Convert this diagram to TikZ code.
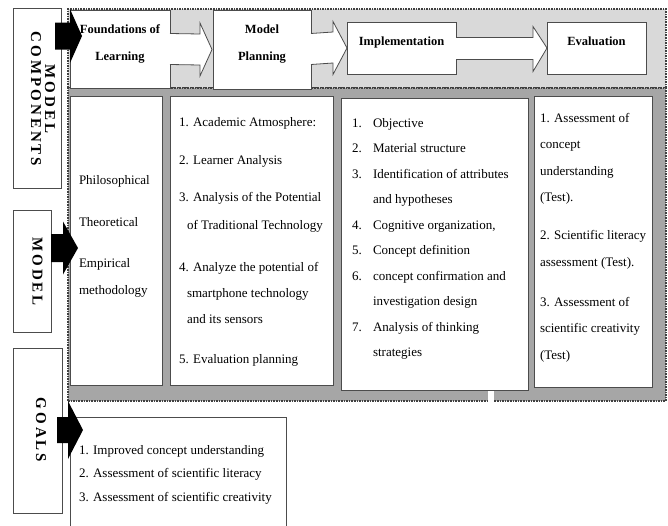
\documentclass[tikz,border=0pt]{standalone}
\usepackage{fontspec}
\setmainfont{Liberation Serif}
\usetikzlibrary{calc, shadows}

\begin{document}
\begin{tikzpicture}[x=1pt, y=-1pt,
        every node/.style={inner sep=0pt, outer sep=0pt},
        area/.style={rectangle, draw=black!75, line width=1.1pt, dash pattern=on 1.6pt off 1pt},
        box/.style={rectangle, draw=black!70, line width=0.8pt, fill=white, drop shadow={shadow xshift=1.3pt, shadow yshift=-1.3pt, opacity=1, fill=black!65}},
        head/.style={box, align=center, text depth=13pt, font=\fontsize{12.5}{27}\selectfont\bfseries},
        sidetxt/.style={rotate=-90, align=center, font=\fontsize{15}{14}\selectfont\bfseries\addfontfeature{LetterSpace=20}},
        txt/.style={anchor=north west, align=left},
        hollow/.style={draw=black!70, fill=white, line width=0.8pt},
        blk/.style={fill=black}
    ]
        \useasboundingbox (0,0) rectangle (668,525);
        \clip (0,0) rectangle (668,525);

        % Gray areas
        \node[area, fill=black!15, minimum width=598pt, minimum height=79pt] (toparea) at (367,48.5) {};
        \node[area, fill=black!35, minimum width=598pt, minimum height=313pt] (midarea) at (367,244.5) {};
        \fill[white] (488,391) rectangle (494,402);

        % Model components
        \node[head, minimum width=100pt, minimum height=78pt] (found) at (120,49) {Foundations of\\Learning};
        \node[head, minimum width=98pt, minimum height=79pt] (plan) at (262,49.5) {Model\\Planning};
        \node[head, minimum width=109pt, minimum height=52pt] (impl) at (401.5,48) {Implementation};
        \node[head, minimum width=99pt, minimum height=52pt] (eval) at (596.5,48) {Evaluation};

        % Hollow arrows
        \draw[hollow] ($(found.east)+(0,-15.5)$) -- ($(plan.west)+(-13,-15.5)$) -- ($(plan.west)+(-13,-26.5)$) -- ($(plan.west)+(-1,0)$) -- ($(plan.west)+(-13,26.5)$) -- ($(plan.west)+(-13,15.5)$) -- ($(found.east)+(0,15.5)$);
        \draw[hollow] ($(plan.east)+(0,-16)$) -- ($(impl.west)+(-14,-16)$) -- ($(impl.west)+(-14,-26.5)$) -- (impl.west) -- ($(impl.west)+(-14,26.5)$) -- ($(impl.west)+(-14,15)$) -- ($(plan.east)+(0,15)$);
        \draw[hollow] ($(impl.east)+(0,-10.5)$) -- ($(eval.west)+(-14,-10.5)$) -- ($(eval.west)+(-14,-21.5)$) -- (eval.west) -- ($(eval.west)+(-14,23.5)$) -- ($(eval.west)+(-14,11.5)$) -- ($(impl.east)+(0,11.5)$);

        % Model columns
        \node[box, minimum width=92pt, minimum height=289pt] (basis) at (116,240.5) {};
        \node[box, minimum width=163pt, minimum height=289pt] (plancol) at (251.5,240.5) {};
        \node[box, minimum width=187pt, minimum height=292pt] (implcol) at (434.5,244) {};
        \node[box, minimum width=118pt, minimum height=291pt] (evalcol) at (593,241.5) {};

        \node[txt, font=\fontsize{13}{27}\selectfont] (basistxt) at (79,175)
            {Philosophical\\[15pt]Theoretical\\[14pt]Empirical\\methodology};
        \node[txt, font=\fontsize{13}{26}\selectfont] (plantxt) at (179,117)
            {1. Academic Atmosphere:\\[12pt]2. Learner Analysis\\[11pt]3. Analysis of the Potential\\[2pt]\hspace*{8pt}of Traditional Technology\\[16pt]4. Analyze the potential of\\\hspace*{8pt}smartphone technology\\\hspace*{8pt}and its sensors\\[14pt]5. Evaluation planning};
        \node[txt, font=\fontsize{13}{25.5}\selectfont] (impltxt) at (352,118)
            {\makebox[21pt][l]{1.}Objective\\
             \makebox[21pt][l]{2.}Material structure\\
             \makebox[21pt][l]{3.}Identification of attributes\\
             \hspace*{21pt}and hypotheses\\
             \makebox[21pt][l]{4.}Cognitive organization,\\
             \makebox[21pt][l]{5.}Concept definition\\
             \makebox[21pt][l]{6.}concept confirmation and\\
             \hspace*{21pt}investigation design\\
             \makebox[21pt][l]{7.}Analysis of thinking\\
             \hspace*{21pt}strategies};
        \node[txt, font=\fontsize{13}{26.5}\selectfont] (evaltxt) at (540,113)
            {1. Assessment of\\concept\\understanding\\(Test).\\[11.5pt]2. Scientific literacy\\assessment (Test).\\[13.5pt]3. Assessment of\\scientific creativity\\(Test)};

        % Goals
        \node[box, minimum width=216pt, minimum height=113pt] (goals) at (178,473.5) {};
        \node[txt, font=\fontsize{13}{23.5}\selectfont] (goalstxt) at (79,445)
            {1. Improved concept understanding\\2. Assessment of scientific literacy\\3. Assessment of scientific creativity};

        % Side labels
        \node[box, minimum width=48pt, minimum height=180pt] (comp) at (37,98) {};
        \node[sidetxt] (comptxt) at (43,99) {MODEL\\COMPONENTS};
        \node[box, minimum width=38pt, minimum height=122pt] (modl) at (32,271) {};
        \node[sidetxt] (modltxt) at (37.5,271.5) {MODEL};
        \node[box, minimum width=49pt, minimum height=165pt] (goall) at (37.5,430.5) {};
        \node[sidetxt] (goalltxt) at (41,430) {GOALS};

        % Black arrows
        \coordinate (tip1) at (82,36);
        \coordinate (tip2) at (78,248);
        \coordinate (tip3) at (83,430);
        \fill[blk] ($(tip1)+(-27,-13.5)$) -- ($(tip1)+(-12,-13.5)$) -- ($(tip1)+(-12,-27)$) -- (tip1) -- ($(tip1)+(-12,27)$) -- ($(tip1)+(-12,13.5)$) -- ($(tip1)+(-27,13.5)$) -- cycle;
        \fill[blk] ($(tip2)+(-27,-14)$) -- ($(tip2)+(-15,-14)$) -- ($(tip2)+(-15,-26.5)$) -- (tip2) -- ($(tip2)+(-15,26.5)$) -- ($(tip2)+(-15,14)$) -- ($(tip2)+(-27,14)$) -- cycle;
        \fill[blk] ($(tip3)+(-26,-13)$) -- ($(tip3)+(-15,-13)$) -- ($(tip3)+(-15,-29)$) -- (tip3) -- ($(tip3)+(-15,29)$) -- ($(tip3)+(-15,13)$) -- ($(tip3)+(-26,13)$) -- cycle;
    \end{tikzpicture}
\end{document}
